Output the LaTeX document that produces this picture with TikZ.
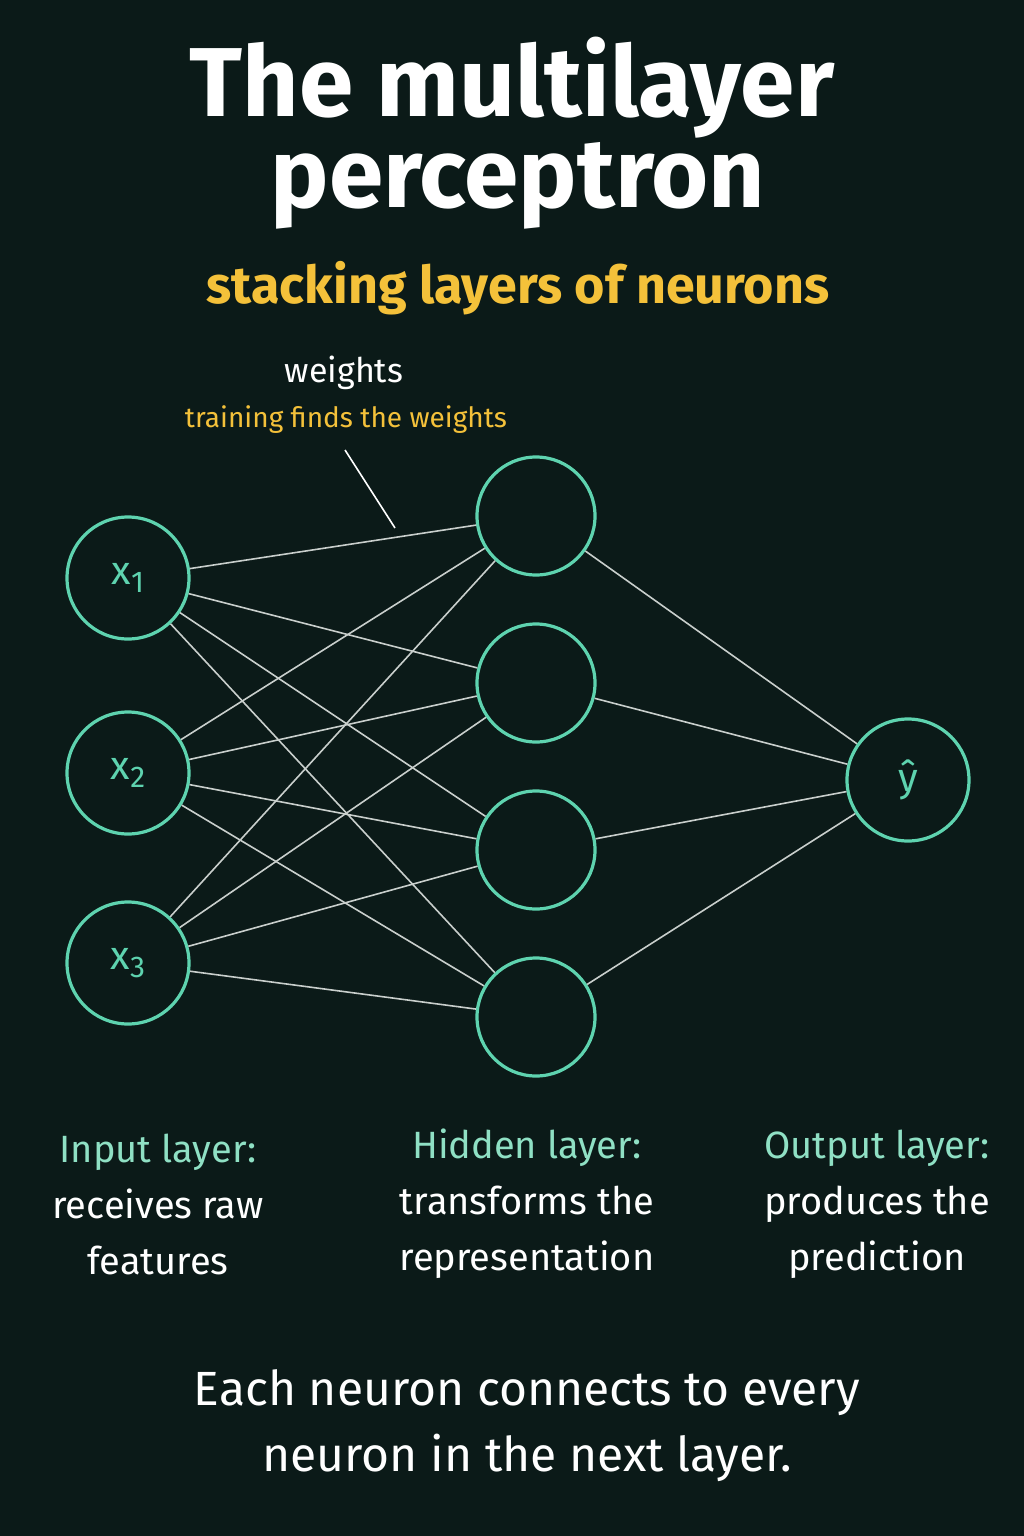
\documentclass[tikz,border=0pt]{standalone}
\usepackage{fontspec}
\setmainfont{Fira Sans}
\begin{document}
\begin{tikzpicture}[x=1pt,y=-1pt,
  neuron/.style={circle,draw=teal1,line width=3.2pt,minimum size=122pt,inner sep=0pt,text=teal1,font=\fontsize{40}{40}\selectfont},
  hid/.style={neuron,minimum size=118pt},
  edge/.style={draw=edgec,line width=1.6pt},
  lab/.style={align=center,font=\fontsize{38}{56}\selectfont,text=white}]
\definecolor{bg}{HTML}{0B1A18}
\definecolor{teal1}{HTML}{5ED3AF}
\definecolor{yel}{HTML}{F4C13A}
\definecolor{edgec}{HTML}{C9CFCC}
\definecolor{labt}{HTML}{8FE0C4}
\fill[bg] (0,0) rectangle (1024,1536);
\useasboundingbox (0,0) rectangle (1024,1536);
\node[text=white,font=\fontsize{98}{98}\bfseries\selectfont] (t1) at (512,88) {The multilayer};
\node[text=white,font=\fontsize{98}{98}\bfseries\selectfont] (t2) at (518,186) {perceptron};
\node[text=yel,font=\fontsize{52}{52}\bfseries\selectfont] (st) at (518,288) {stacking layers of neurons};
\node[text=white,font=\fontsize{34}{34}\selectfont] (w) at (344,373) {weights};
\node[text=yel,font=\fontsize{28}{28}\selectfont] (tw) at (346,420) {training finds the weights};
\node[neuron] (i1) at (128,578) {x\raisebox{-0.35ex}{\fontsize{30}{30}\selectfont 1}};
\node[neuron] (i2) at (128,773) {x\raisebox{-0.35ex}{\fontsize{30}{30}\selectfont 2}};
\node[neuron] (i3) at (128,963) {x\raisebox{-0.35ex}{\fontsize{30}{30}\selectfont 3}};
\node[hid] (h1) at (536,516) {};
\node[hid] (h2) at (536,683) {};
\node[hid] (h3) at (536,850) {};
\node[hid] (h4) at (536,1017) {};
\node[neuron] (o) at (908,780) {ŷ};
\foreach \i in {i1,i2,i3}{\foreach \h in {h1,h2,h3,h4}{\draw[edge] (\i) -- (\h);}}
\foreach \h in {h1,h2,h3,h4}{\draw[edge] (\h) -- (o);}
\coordinate (wa) at (345,450);
\coordinate (wb) at (395,528);
\draw[white,line width=1.6pt] (wa) -- (wb);
\node[lab] (l1) at (158,1204) {\textcolor{labt}{Input layer:}\\receives raw\\features};
\node[lab] (l2) at (527,1204) {\textcolor{labt}{Hidden layer:}\\transforms the\\representation};
\node[lab] (l3) at (877,1204) {\textcolor{labt}{Output layer:}\\produces the\\prediction};
\node[align=center,text=white,font=\fontsize{48}{66}\selectfont] (b) at (527,1426) {Each neuron connects to every\\neuron in the next layer.};
\end{tikzpicture}
\end{document}
